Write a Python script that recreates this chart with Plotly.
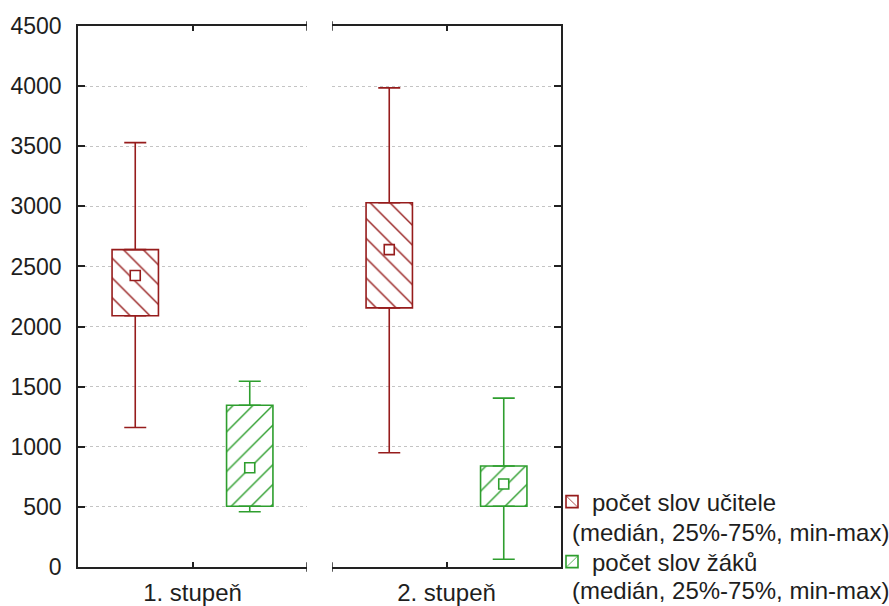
import plotly.graph_objects as go

# ---- data ----
groups = ["1. stupeň", "2. stupeň"]
series_names = ["počet slov učitele", "počet slov žáků"]
legend_sub = "(medián, 25%-75%, min-max)"

ucitel_min = [1160, 950]
ucitel_q1 = [2090, 2155]
ucitel_med = [2425, 2640]
ucitel_q3 = [2640, 3030]
ucitel_max = [3530, 3985]

zak_min = [460, 65]
zak_q1 = [505, 505]
zak_med = [825, 690]
zak_q3 = [1345, 840]
zak_max = [1545, 1405]

y_ticks = [0, 500, 1000, 1500, 2000, 2500, 3000, 3500, 4000, 4500]

RED = "#961c1c"
GREEN = "#2e9e2e"
FONT = "Liberation Sans, Arial, sans-serif"
TXT = "#1e1e1e"

series = [
    (series_names[0], RED, "\\", ucitel_min, ucitel_q1, ucitel_med, ucitel_q3, ucitel_max, 1, "legend"),
    (series_names[1], GREEN, "/", zak_min, zak_q1, zak_med, zak_q3, zak_max, 3, "legend2"),
]

fig = go.Figure()

for gi in range(len(groups)):
    xa = "x" if gi == 0 else "x2"
    ya = "y" if gi == 0 else "y2"
    for si, (name, col, shape, mn, q1, md, q3, mx, xpos, lg) in enumerate(series):
        # box (hatched bar)
        fig.add_trace(go.Bar(
            x=[xpos], y=[q3[gi] - q1[gi]], base=[q1[gi]], width=0.81,
            marker=dict(color="white", line=dict(color=col, width=1.6),
                        pattern=dict(shape=shape, fgcolor=col, bgcolor="white",
                                     fgopacity=1, size=14, solidity=0.1,
                                     fillmode="replace")),
            name=name, legend=lg, showlegend=(gi == 0),
            xaxis=xa, yaxis=ya, hoverinfo="skip"))
        # upper whisker
        fig.add_trace(go.Scatter(
            x=[xpos], y=[q3[gi]], mode="markers", marker=dict(size=0.1, color=col),
            error_y=dict(type="data", symmetric=False, array=[mx[gi] - q3[gi]],
                         arrayminus=[0], color=col, thickness=1.6, width=11),
            showlegend=False, xaxis=xa, yaxis=ya, hoverinfo="skip"))
        # lower whisker
        fig.add_trace(go.Scatter(
            x=[xpos], y=[q1[gi]], mode="markers", marker=dict(size=0.1, color=col),
            error_y=dict(type="data", symmetric=False, array=[0],
                         arrayminus=[q1[gi] - mn[gi]], color=col, thickness=1.6, width=11),
            showlegend=False, xaxis=xa, yaxis=ya, hoverinfo="skip"))
        # median marker
        fig.add_trace(go.Scatter(
            x=[xpos], y=[md[gi]], mode="markers",
            marker=dict(symbol="square", size=10, color="white",
                        line=dict(color=col, width=1.6)),
            showlegend=False, xaxis=xa, yaxis=ya, hoverinfo="skip"))

W, H = 889, 606
L, R, T, B = 78, 561, 26, 567
pw = R - L
ph = B - T

axis_common = dict(showline=True, linecolor="#222", linewidth=1.5,
                   ticks="inside", ticklen=5, tickcolor="#222", tickwidth=1.5,
                   showgrid=False, zeroline=False, range=[0, 4], fixedrange=True,
                   tickfont=dict(family=FONT, size=24, color=TXT),
                   ticklabelstandoff=3)
ycommon = dict(range=[0, 4500], tickvals=y_ticks, showgrid=True,
               gridcolor="#c4c4c4", griddash="dot", gridwidth=1,
               showline=True, linecolor="#222", linewidth=1.5,
               ticks="inside", ticklen=7, tickcolor="#222", tickwidth=1.5,
               zeroline=False, fixedrange=True,
               tickfont=dict(family=FONT, size=23, color=TXT))

leg_common = dict(xanchor="left", yanchor="middle",
                  font=dict(family=FONT, size=24, color=TXT),
                  itemwidth=30, bgcolor="rgba(0,0,0,0)", borderwidth=0)

fig.update_layout(
    width=W, height=H,
    margin=dict(l=L, r=W - R, t=T, b=H - B, pad=0, autoexpand=False),
    paper_bgcolor="white", plot_bgcolor="white",
    barmode="overlay",
    showlegend=True,
    legend=dict(x=(552 - L) / pw, y=(B - 502) / ph, **leg_common),
    legend2=dict(x=(552 - L) / pw, y=(B - 562) / ph, **leg_common),
    xaxis=dict(domain=[0, (307 - L) / pw], anchor="y", mirror="ticks",
               tickvals=[2, 4], ticktext=[groups[0], ""], **axis_common),
    xaxis2=dict(domain=[(332 - L) / pw, 1], anchor="y2", mirror="ticks",
                tickvals=[0, 2], ticktext=["", groups[1]], **axis_common),
    yaxis=dict(domain=[0, 1], anchor="x", side="left", showticklabels=True,
               ticklabelstandoff=10, **ycommon),
    yaxis2=dict(domain=[0, 1], anchor="x2", side="right", showticklabels=False,
                **ycommon),
)

# legend sub-lines as text
for yy in [532, 590]:
    fig.add_annotation(text=legend_sub, xref="paper", yref="paper",
                       x=(570 - L) / pw, y=(B - yy) / ph,
                       xanchor="left", yanchor="middle", showarrow=False,
                       font=dict(family=FONT, size=24, color=TXT))

# end ticks crossing the bottom/top line at the inner panel ends
for xr, xv in [("x", 4), ("x2", 0)]:
    for y0, y1 in [(-0.009, 0.009), (0.991, 1.009)]:
        fig.add_shape(type="line", xref=xr, yref="paper", x0=xv, x1=xv, y0=y0, y1=y1,
                      line=dict(color="#222", width=1.5))

fig.write_html("out.html", config={"displayModeBar": False},
               post_script="document.body.style.margin='0';document.body.style.overflow='hidden';")
